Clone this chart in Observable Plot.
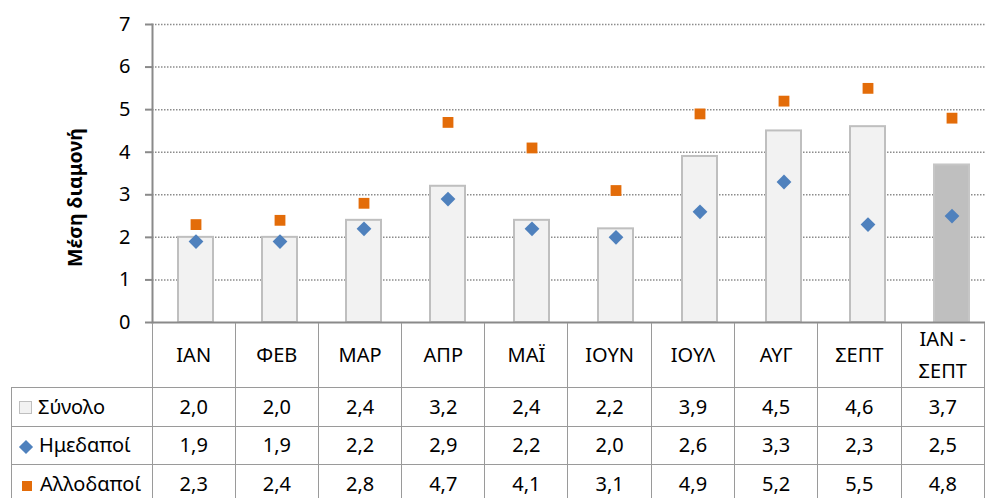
<!DOCTYPE html>
<html>
<head>
<meta charset="utf-8">
<script src="https://cdn.jsdelivr.net/npm/d3@7"></script>
<script src="https://cdn.jsdelivr.net/npm/@observablehq/plot@0.6"></script>
<style>
  html, body { margin: 0; padding: 0; background: #fff; }
  body { width: 985px; height: 498px; overflow: hidden; position: relative; font-family: "Noto Sans", sans-serif; }
  #chart { position: absolute; left: 0; top: 0; }
  table { border-collapse: collapse; table-layout: fixed; position: absolute; left: 11px; top: 323px;
          font-family: "Noto Sans", sans-serif; font-size: 20px; color: #000; }
  td { border: 1.5px solid #9a9a9a; text-align: center; padding: 0; white-space: nowrap; }
  tr.head td { height: 64px; border-top: none; line-height: 32px; white-space: normal; }
  tr.head td.blank { border-left: none; border-top: none; }
  tr.row td { height: 37.5px; line-height: 24px; }
  td.lab { text-align: left; padding-left: 7px; }
  .sw { display: inline-block; vertical-align: 0px; }
  .sw.tot { width: 11px; height: 11px; background: #f2f2f2; border: 1px solid #bfbfbf; margin-right: 6px; }
  .sw.dom { width: 10px; height: 10px; background: #4f81bd; transform: rotate(45deg); margin-left: 2px; margin-right: 8px; }
  .sw.for { width: 10px; height: 10px; background: #e36c09; margin-left: 3px; margin-right: 8px; }
</style>
</head>
<body>
<div id="chart"></div>
<script>
const months = ["ΙΑΝ", "ΦΕΒ", "ΜΑΡ", "ΑΠΡ", "ΜΑΪ", "ΙΟΥΝ", "ΙΟΥΛ", "ΑΥΓ", "ΣΕΠΤ", "ΙΑΝ - ΣΕΠΤ"];
const total    = [2.0, 2.0, 2.4, 3.2, 2.4, 2.2, 3.9, 4.5, 4.6, 3.7];
const domestic = [1.9, 1.9, 2.2, 2.9, 2.2, 2.0, 2.6, 3.3, 2.3, 2.5];
const foreign  = [2.3, 2.4, 2.8, 4.7, 4.1, 3.1, 4.9, 5.2, 5.5, 4.8];
const seriesNames = ["Σύνολο", "Ημεδαποί", "Αλλοδαποί"];
const yTicks = [0, 1, 2, 3, 4, 5, 6, 7];
const yLabel = "Μέση διαμονή";

const data = months.map((m, i) => ({month: m, total: total[i], domestic: domestic[i], foreign: foreign[i]}));
const lastMonth = months[months.length - 1];

const chart = Plot.plot({
  width: 985, height: 324,
  marginLeft: 152, marginRight: 0, marginTop: 24, marginBottom: 2,
  style: {fontFamily: "Noto Sans", fontSize: "20px", color: "#000", background: "transparent", overflow: "visible"},
  x: {domain: months, range: [152, 995], paddingInner: 0.585, paddingOuter: 0.2925, axis: null},
  y: {domain: [0, 7], axis: null},
  color: {type: "identity"},
  marks: [
    Plot.ruleY(yTicks.slice(1), {stroke: "#8c8c8c", strokeWidth: 1.5, strokeDasharray: "1.5,1.5"}),
    Plot.barY(data, {
      x: "month", y: "total",
      fill: d => d.month === lastMonth ? "#bfbfbf" : "#f2f2f2",
      stroke: d => d.month === lastMonth ? "#c6c6c6" : "#bfbfbf",
      strokeWidth: 2
    }),
    Plot.dot(data, {x: "month", y: "domestic", symbol: "square", rotate: 45, r: 5.9, fill: "#4f81bd", stroke: "none"}),
    Plot.dot(data, {x: "month", y: "foreign", symbol: "square", r: 6.1, fill: "#e36c09", stroke: "none"}),
    Plot.ruleY([0], {stroke: "#8a8a8a", strokeWidth: 2}),
    Plot.axisY({ticks: yTicks, tickSize: 7, tickPadding: 15, stroke: "#8a8a8a", strokeWidth: 2, tickFormat: d => String(d), fontSize: 20, label: null}),
    Plot.frame({anchor: "left", stroke: "#8a8a8a", strokeWidth: 2}),
    Plot.text([yLabel], {frameAnchor: "left", textAnchor: "middle", dx: -77, dy: 24, rotate: -90, fontWeight: "bold", fontSize: 19.5})
  ]
});
document.getElementById("chart").appendChild(chart);

// data table below the chart
const fmt = v => d3.format(".1f")(v).replace(".", ",");
const table = document.createElement("table");
const colgroup = document.createElement("colgroup");
const c0 = document.createElement("col"); c0.style.width = "141px"; colgroup.appendChild(c0);
months.forEach(() => { const c = document.createElement("col"); c.style.width = "84.3px"; colgroup.appendChild(c); });
table.appendChild(colgroup);

const head = document.createElement("tr"); head.className = "head";
const blank = document.createElement("td"); blank.className = "blank"; head.appendChild(blank);
months.forEach(m => { const td = document.createElement("td"); td.textContent = m; head.appendChild(td); });
table.appendChild(head);

const rows = [total, domestic, foreign];
const swClass = ["tot", "dom", "for"];
rows.forEach((vals, r) => {
  const tr = document.createElement("tr"); tr.className = "row";
  const lab = document.createElement("td"); lab.className = "lab";
  const sw = document.createElement("span"); sw.className = "sw " + swClass[r];
  lab.appendChild(sw);
  lab.appendChild(document.createTextNode(seriesNames[r]));
  tr.appendChild(lab);
  vals.forEach(v => { const td = document.createElement("td"); td.textContent = fmt(v); tr.appendChild(td); });
  table.appendChild(tr);
});
document.body.appendChild(table);
</script>
</body>
</html>
